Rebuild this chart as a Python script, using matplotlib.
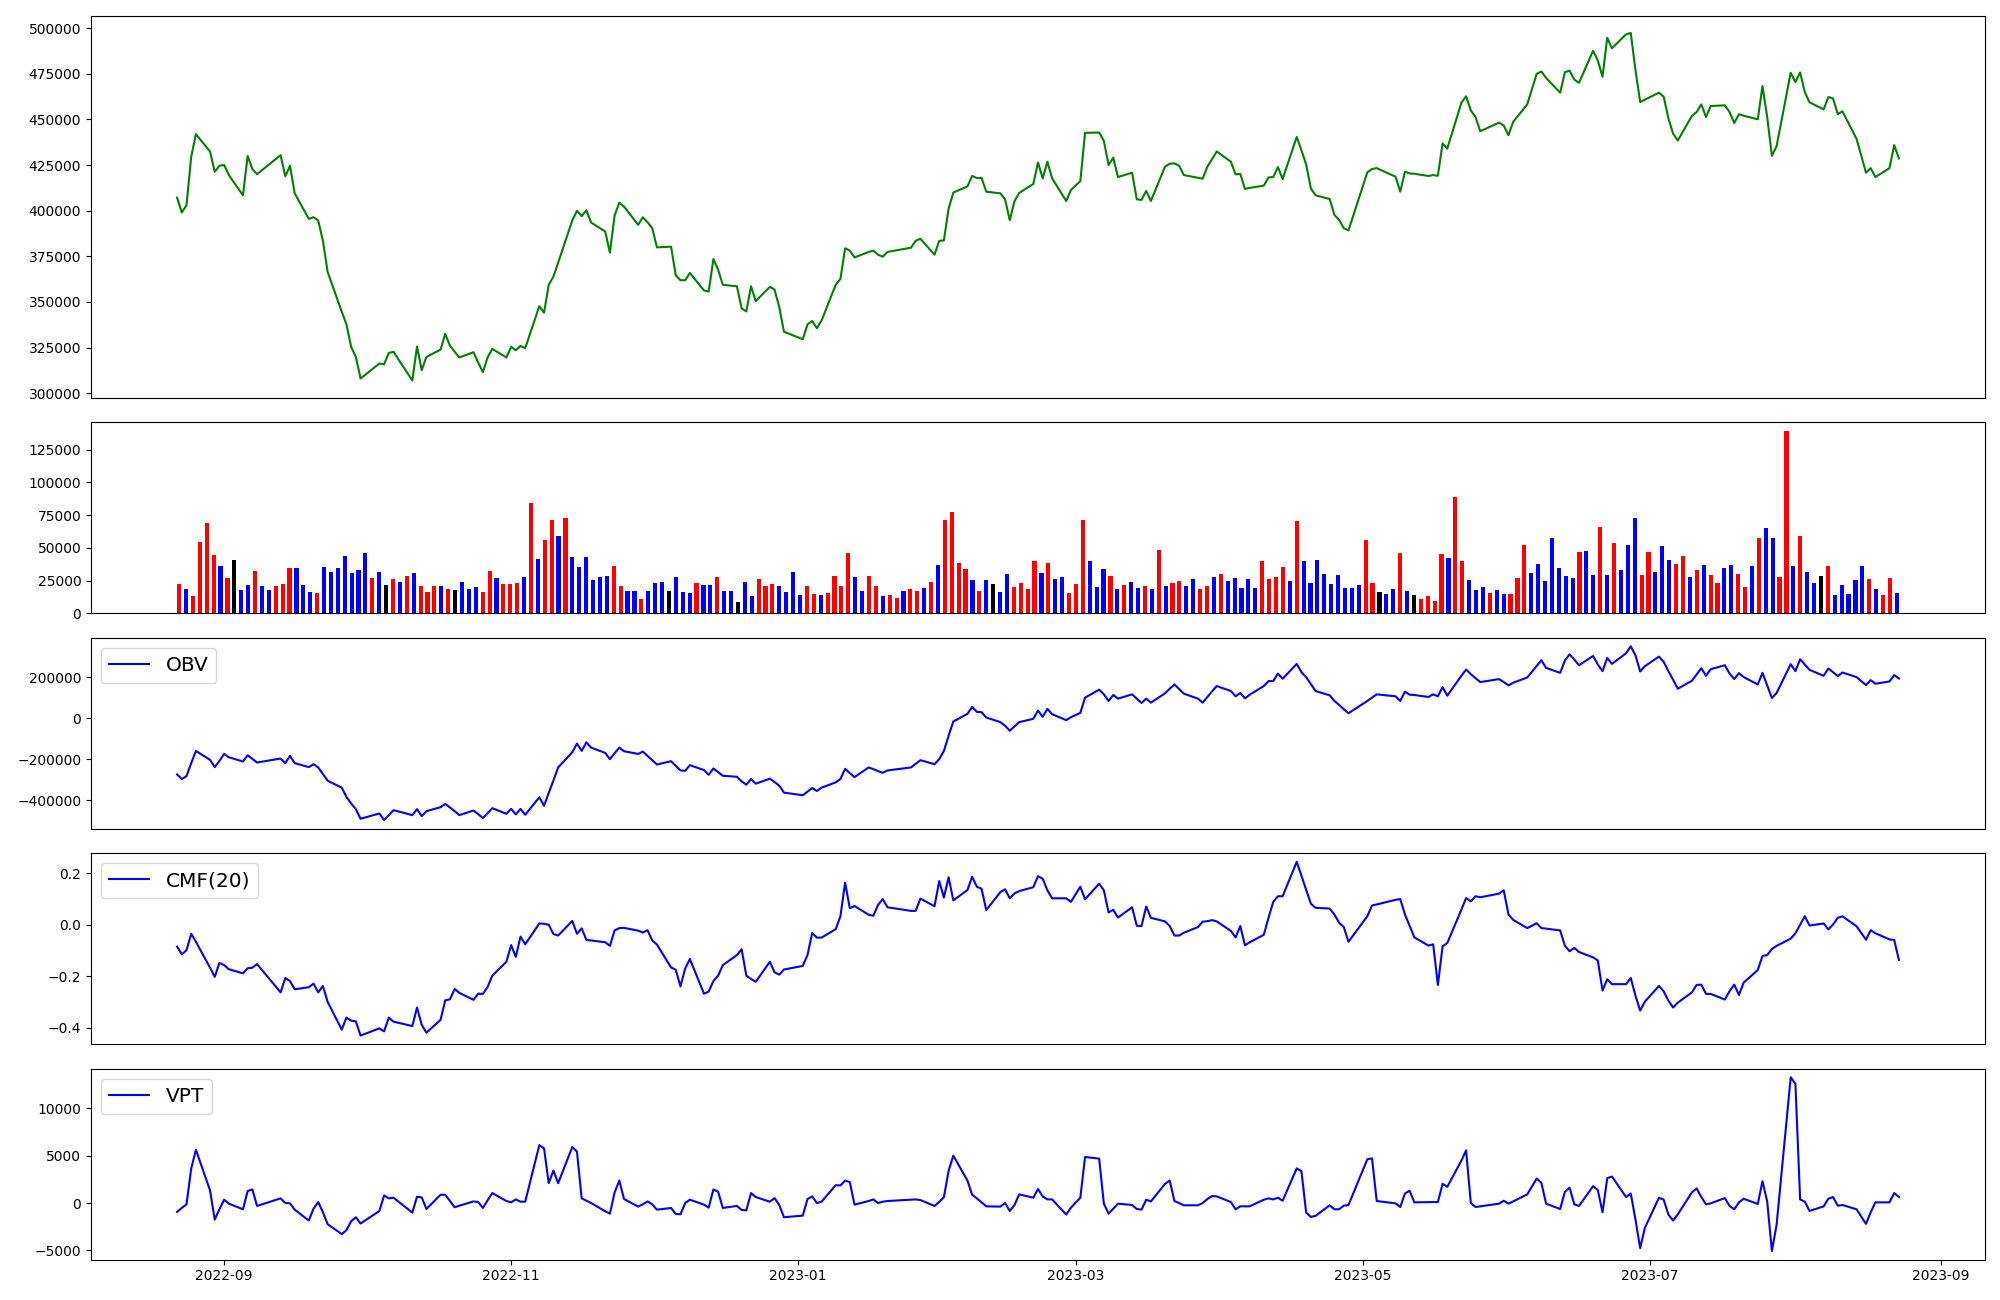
import numpy as np
import pandas as pd
import matplotlib
matplotlib.use('Agg')
import matplotlib.pyplot as plt

# Trading days (KRX calendar, holidays removed)
holidays = ['2022-09-09', '2022-09-12', '2022-10-03', '2022-10-10', '2022-12-30',
            '2023-01-23', '2023-01-24', '2023-03-01', '2023-05-01', '2023-05-05',
            '2023-05-29', '2023-06-06', '2023-08-15']
dates = pd.bdate_range('2022-08-22', '2023-08-23').difference(pd.to_datetime(holidays))

# Close price
close = [407150, 399000, 403000, 429500, 441900, 432400, 421300, 424600, 425000, 419500,
         408400, 430000, 422800, 420000, 430400, 418800, 424600, 409500, 395500, 396400,
         394600, 383500, 366500, 344650, 337750, 325400, 319900, 308100, 316300, 315900,
         322100, 322700, 307000, 325600, 312700, 319900, 323900, 332500, 326100, 322800,
         319600, 322500, 316800, 311600, 319600, 324300, 319600, 325400, 323600, 325900,
         324700, 347700, 344100, 359400, 363900, 371500, 394600, 399900, 397000, 400250,
         393500, 388600, 377000, 397300, 404400, 402250, 392250, 396400, 393700, 390400,
         379900, 380300, 364600, 361900, 361900, 365900, 356300, 355700, 373500, 367700,
         359400, 358600, 346500, 344800, 358600, 350500, 358300, 356800, 347200, 333700,
         329600, 337700, 339600, 335600, 339900, 359400, 362600, 379400, 378100, 374400,
         377400, 378100, 375900, 374800, 377400, 379700, 383500, 384600, 375900, 383500,
         383700, 401200, 409900, 413300, 419000, 417900, 417900, 410400, 409500, 406200,
         394800, 405200, 409700, 414600, 426400, 417700, 426800, 417700, 405300, 411300,
         416200, 442600, 442800, 438200, 425000, 429000, 418400, 420800, 406200, 405900,
         410800, 405300, 424100, 425700, 425900, 424600, 419500, 418000, 417500, 424100,
         428200, 432400, 426800, 419900, 420100, 411900, 412500, 413700, 418200, 418400,
         423900, 417300, 440400, 433000, 425300, 412200, 408400, 406400, 397700, 395000,
         390400, 389200, 421000, 422800, 423300, 418600, 410400, 421300, 420400, 420200,
         419000, 419500, 419100, 436800, 434000, 459100, 462600, 454900, 451300, 443500,
         448200, 446600, 441300, 448600, 458200, 474900, 476200, 472700, 464600, 475800,
         476700, 471800, 470000, 487600, 482200, 473300, 494700, 488900, 496550, 497300,
         477000, 459500, 460800, 464600, 462400, 450600, 442200, 438400, 451900, 454000,
         458200, 451300, 457300, 457700, 454000, 448000, 452800, 452000, 450000, 468200,
         451300, 430000, 435300, 475500, 470400, 475700, 464900, 459300, 455500, 462200,
         461500, 452900, 454400, 439300, 420800, 423300, 418400, 423300, 435900, 428600]

# Volume and bar colour code (r = up, b = down, k = unchanged)
volume = [22200, 18400, 13100, 54800, 69200, 44200, 35900, 26800, 40400, 17700,
          21500, 32100, 20700, 17700, 20700, 22200, 34300, 34300, 21500, 16200,
          15400, 35100, 31300, 34300, 43400, 30600, 32800, 45700, 26800, 31300,
          21500, 26000, 23700, 28300, 30600, 20700, 16200, 20700, 20700, 18400,
          17700, 23700, 18400, 19900, 16200, 32100, 26800, 22200, 22200, 23000,
          27500, 84300, 41200, 56300, 71500, 59300, 73000, 42700, 35100, 42700,
          25300, 27500, 28300, 35900, 20700, 16900, 16900, 10900, 16900, 23000,
          23700, 16900, 27500, 16200, 15400, 23000, 21500, 21500, 27500, 16900,
          16900, 8600, 23700, 13100, 26000, 20700, 22200, 20700, 16200, 31300,
          13900, 20700, 14600, 13900, 15400, 28300, 20700, 45700, 27500, 16900,
          28300, 20700, 13100, 13900, 11600, 16900, 18400, 16900, 19200, 23700,
          36600, 71500, 77500, 38100, 33600, 25300, 16900, 25300, 22200, 16200,
          29800, 19900, 23000, 18400, 39600, 30600, 38100, 26000, 27500, 15400,
          22200, 71500, 39600, 19900, 33600, 28300, 18400, 21500, 23700, 19200,
          20700, 18400, 48000, 20700, 23000, 24500, 20700, 26000, 18400, 20700,
          27500, 29800, 24500, 26800, 19200, 26000, 19200, 39600, 26000, 27500,
          35100, 24500, 70700, 39600, 23000, 40400, 29800, 22200, 29000, 19200,
          19200, 21500, 55600, 23000, 16200, 14600, 18400, 45700, 16900, 13900,
          10900, 13100, 9300, 44900, 41900, 88900, 39600, 25300, 17700, 19900,
          15400, 17700, 14600, 14600, 26800, 52500, 30600, 37400, 24500, 57800,
          34300, 28300, 26800, 46500, 47200, 29000, 66200, 29000, 53300, 32800,
          51800, 73000, 29000, 46500, 31300, 51000, 40400, 37400, 43400, 27500,
          32800, 36600, 29000, 23000, 34300, 36600, 29800, 19900, 35900, 57800,
          65400, 57800, 27500, 138900, 35900, 59300, 31300, 23000, 28300, 35900,
          13900, 21500, 14600, 25300, 35900, 26000, 18400, 13900, 26800, 15400]
bar_code = ('rbrrrrbrkb' 'brbbrrrbbb' 'rbbbbbbbrb' 'krbrbrrrbr' 'kbbbrrbrrr'
            'brbrrbrbbb' 'bbbrrbbrbb' 'bkbbbrbbrb' 'bkbbrrrbbb' 'brrbrrrrbb'
            'rrbrrbrrbr' 'brrrrbrbkb' 'brrrrbrbbr' 'rrbbbrbrbb' 'rbrbrrbbrr'
            'brbbbbbrrr' 'rbrbbbbbbb' 'bbrrkbbrbk' 'rrrrbrrbbb' 'rbbrrrbbbb'
            'bbbrbbrbrb' 'bbrrbbbrrb' 'rbrrbbrrbr' 'bbrrbrbbkr' 'bbbbbrbrrb')

obv = [-273500, -296100, -281600, -218800, -159300, -202700, -238100, -207600, -173800, -189900,
       -210800, -180200, -197900, -215600, -196300, -218800, -183400, -218800, -238100, -223700,
       -239700, -271900, -304100, -337900, -382900, -415100, -442500, -489100, -463400, -495600,
       -471400, -447300, -471400, -442500, -476300, -452100, -432800, -416700, -434400, -452100,
       -471400, -448900, -466600, -485900, -461800, -437600, -465000, -440900, -468200, -440900,
       -469800, -384600, -426400, -363600, -302500, -239700, -165700, -123900, -159300, -117500,
       -143200, -168900, -199500, -170600, -143200, -160900, -173800, -162500, -183400, -204300,
       -225300, -209200, -231700, -254200, -255800, -228500, -252600, -275100, -244600, -262300,
       -280000, -284800, -307300, -323400, -296100, -318600, -294400, -310500, -328200, -362000,
       -374900, -357200, -339500, -354000, -337900, -312100, -296100, -246200, -267100, -286400,
       -239700, -247800, -257400, -265500, -254200, -239700, -222000, -204300, -223700, -199500,
       -159300, -85300, -16100, 20900, 54700, 30600, 29000, 3200, -19300, -37000,
       -61100, -40200, -19300, -3200, 37000, 6400, 45100, 19300, -9700, 4800,
       25700, 99800, 138400, 115800, 83700, 112600, 94900, 115800, 94900, 74000,
       94900, 75600, 120700, 143200, 164100, 141600, 119100, 94900, 75600, 103000,
       130300, 156100, 131900, 106200, 122300, 96500, 114200, 156100, 180200, 180200,
       217200, 191500, 263900, 223700, 199500, 165700, 131900, 111000, 83700, 64400,
       43400, 24100, 83700, 99800, 115800, 106200, 83700, 128700, 114200, 112600,
       103000, 115800, 106200, 151200, 109400, 206000, 236500, 214000, 194700, 175400,
       189900, 175400, 159300, 172200, 197900, 254200, 281600, 244600, 220400, 280000,
       310500, 284800, 257400, 302500, 260700, 228500, 292800, 263900, 315400, 349200,
       305700, 226900, 252600, 299300, 273500, 228500, 186600, 143200, 181800, 212400,
       243000, 206000, 238100, 257400, 217200, 189900, 218800, 199500, 164100, 220400,
       159300, 98100, 122300, 262300, 228500, 286400, 260700, 234900, 206000, 241400,
       223700, 204300, 222000, 199500, 160900, 185000, 167300, 178600, 209200, 193100]

cmf = [-0.085, -0.115, -0.099, -0.035, -0.066, -0.167, -0.203, -0.148, -0.157, -0.173,
       -0.189, -0.169, -0.167, -0.153, -0.263, -0.207, -0.219, -0.251, -0.243, -0.229,
       -0.263, -0.238, -0.300, -0.408, -0.361, -0.373, -0.376, -0.431, -0.403, -0.415,
       -0.361, -0.377, -0.394, -0.322, -0.389, -0.420, -0.370, -0.294, -0.290, -0.250,
       -0.265, -0.292, -0.268, -0.269, -0.242, -0.198, -0.144, -0.079, -0.125, -0.046,
       -0.076, 0.005, 0.004, 0.000, -0.036, -0.042, 0.015, -0.035, -0.014, -0.059,
       -0.061, -0.068, -0.082, -0.022, -0.013, -0.012, -0.023, -0.030, -0.021, -0.061,
       -0.077, -0.166, -0.175, -0.240, -0.170, -0.133, -0.268, -0.260, -0.219, -0.198,
       -0.157, -0.118, -0.095, -0.198, -0.211, -0.222, -0.144, -0.185, -0.194, -0.174,
       -0.160, -0.118, -0.032, -0.050, -0.050, -0.017, 0.033, 0.164, 0.064, 0.073,
       0.039, 0.035, 0.077, 0.100, 0.068, 0.054, 0.054, 0.102, 0.072, 0.170,
       0.106, 0.185, 0.095, 0.135, 0.187, 0.148, 0.140, 0.057, 0.127, 0.138,
       0.103, 0.122, 0.131, 0.146, 0.189, 0.179, 0.134, 0.103, 0.103, 0.089,
       0.148, 0.099, 0.160, 0.134, 0.048, 0.058, 0.028, 0.068, -0.004, -0.005,
       0.071, 0.027, 0.013, -0.005, -0.042, -0.042, -0.031, -0.009, 0.012, 0.014,
       0.018, 0.013, -0.024, -0.049, -0.005, -0.080, -0.068, -0.039, 0.027, 0.089,
       0.111, 0.111, 0.245, 0.191, 0.137, 0.082, 0.066, 0.063, 0.040, 0.008,
       -0.009, -0.066, 0.033, 0.075, 0.079, 0.097, 0.100, 0.040, -0.005, -0.049,
       -0.081, -0.076, -0.234, -0.084, -0.071, 0.059, 0.104, 0.091, 0.111, 0.107,
       0.121, 0.134, 0.040, 0.019, -0.013, 0.006, -0.013, -0.015, -0.022, -0.082,
       -0.103, -0.090, -0.106, -0.127, -0.139, -0.256, -0.212, -0.231, -0.231, -0.207,
       -0.276, -0.334, -0.299, -0.238, -0.259, -0.295, -0.322, -0.303, -0.263, -0.234,
       -0.233, -0.269, -0.269, -0.291, -0.258, -0.233, -0.273, -0.225, -0.176, -0.121,
       -0.118, -0.094, -0.082, -0.054, -0.033, 0.000, 0.033, -0.003, 0.005, -0.018,
       0.001, 0.027, 0.033, -0.006, -0.058, -0.021, -0.033, -0.057, -0.059, -0.137]

vpt = [-940, -520, -140, 3630, 5620, 1330, -1750, -660, 350, -70,
       -660, 1260, 1430, -310, 490, 0, -35, -700, -1850, -590,
       100, -980, -2230, -3280, -2860, -1920, -1500, -2160, -840, 800,
       490, 560, -1010, 660, 590, -630, 870, 870, 210, -450,
       -280, 170, 100, -520, 280, 1050, 210, 70, 380, 140,
       140, 6110, 5760, 2090, 3420, 2090, 5900, 5410, 490, 240,
       0, -870, -1120, 1120, 2370, 420, -380, -140, 170, -140,
       -700, -520, -1150, -1190, 0, 350, -170, -490, 1430, 1190,
       -520, -310, -730, -770, 1050, 630, 140, 520, -210, -1500,
       -1330, 420, 700, 0, 140, 1880, 1850, 2370, 2200, -170,
       210, 380, 0, 140, 210, 350, 380, 310, -310, 100,
       630, 3390, 4990, 2370, 870, 490, 70, -350, -380, 0,
       -840, -210, 910, 560, 1470, 700, 380, 380, -1220, -490,
       560, 4850, 4680, -70, -1120, -590, -70, -210, -630, -700,
       350, 170, 2020, 2370, 210, 0, -240, -240, 0, 420,
       730, 700, 100, -660, -350, -350, -350, 350, 490, 380,
       560, 240, 3660, 3350, -1010, -1470, -1360, -240, -660, -660,
       -280, -210, 4610, 4710, 210, -35, -420, 1010, 1290, 70,
       100, 100, 100, 2020, 1710, 4470, 5550, 0, -420, -350,
       -70, 240, -70, 170, 910, 2580, 2130, -70, -630, 1190,
       1610, -140, -310, 1780, 1360, -980, 2620, 2790, 630, 1010,
       -1750, -4750, -2620, 560, 350, -1220, -1850, -1190, 1120, 1540,
       630, -140, -35, 520, -310, -660, 70, 450, -100, 2300,
       170, -5060, -2300, 13260, 12560, 380, 140, -840, -350, 450,
       630, -280, -210, -660, -2200, -980, 70, 70, 1050, 630]

colour_map = {'r': 'red', 'b': 'blue', 'k': 'black'}
bar_colours = [colour_map[c] for c in bar_code]

fig, axes = plt.subplots(5, 1, figsize=(20, 13),
                         gridspec_kw={'height_ratios': [2, 1, 1, 1, 1]})
fig.subplots_adjust(left=0.0455, right=0.9925, top=0.988, bottom=0.031, hspace=0.106)

# Price
axes[0].plot(dates, close, color='green')

# Volume (one bar per trading session, no calendar gaps)
axes[1].bar(np.arange(len(volume)), volume, color=bar_colours, width=0.6)

# Indicators
axes[2].plot(dates, obv, color='blue', label='OBV')
axes[2].legend(loc='upper left', fontsize=14.5)
axes[3].plot(dates, cmf, color='blue', label='CMF(20)')
axes[3].legend(loc='upper left', fontsize=14.5)
axes[4].plot(dates, vpt, color='blue', label='VPT')
axes[4].legend(loc='upper left', fontsize=14.5)

for ax in axes[:-1]:
    ax.tick_params(axis='x', bottom=False, labelbottom=False)

plt.savefig('out.png', dpi=100)
